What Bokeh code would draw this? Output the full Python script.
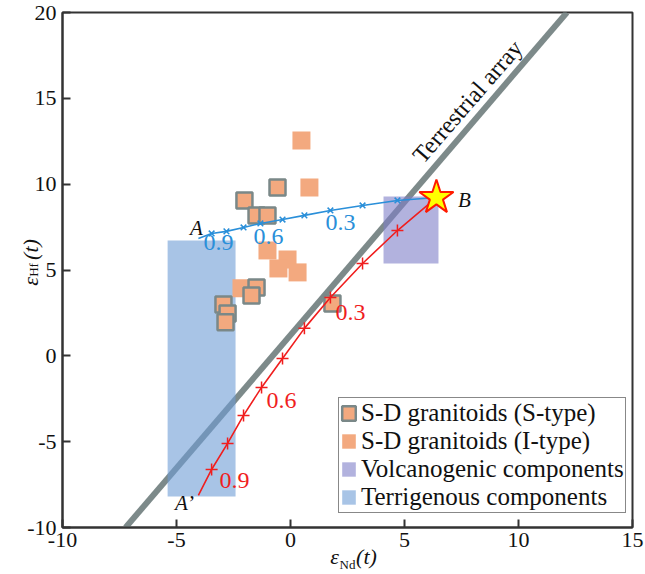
from bokeh.plotting import figure
from bokeh.models import Label, Legend, LegendItem, Slope, LinearAxis, FixedTicker
from bokeh.embed import file_html
from bokeh.resources import INLINE

# ---------------- data ----------------
x_ticks = [-10, -5, 0, 5, 10, 15]
y_ticks = [-10, -5, 0, 5, 10, 15, 20]

# S-D granitoids (S-type) - bordered squares
s_type_x = [-0.57, -2.02, -1.49, -1.01, -1.49, -1.71, -2.94, -2.76, -2.85, 1.84]
s_type_y = [9.81, 9.05, 8.18, 8.18, 3.98, 3.52, 2.99, 2.47, 1.95, 3.05]
# S-D granitoids (I-type) - plain squares
i_type_x = [0.48, 0.83, -1.01, -0.13, -0.53, 0.31, -2.15]
i_type_y = [12.55, 9.81, 6.14, 5.61, 5.09, 4.86, 3.93]

# mixing curve A -> B (blue) and A' -> B (red); endpoints first/last
blue_x = [-4.04, -3.46, -2.81, -2.06, -1.32, -0.35, 0.61, 1.75, 3.16, 4.69, 6.40]
blue_y = [6.84, 7.13, 7.25, 7.48, 7.71, 7.94, 8.18, 8.47, 8.76, 9.05, 9.22]
red_x = [-4.04, -3.46, -2.76, -2.06, -1.27, -0.35, 0.61, 1.75, 3.16, 4.69, 6.40]
red_y = [-8.13, -6.62, -5.10, -3.47, -1.84, -0.15, 1.60, 3.40, 5.38, 7.30, 9.22]

# end-member B
b_x = [6.40]
b_y = [9.22]

# component fields
volc_left, volc_right, volc_bottom, volc_top = [4.08], [6.49], [5.38], [9.28]
terr_left, terr_right, terr_bottom, terr_top = [-5.39], [-2.41], [-8.19], [6.72]

# terrestrial array  eHf = 1.55 eNd + 1.21
ta_gradient = 1.55
ta_intercept = 1.21

SERIF = "Liberation Serif"

# pixel helpers for text placement (frame: x 62..632, y 12..527)
def sx(px):
    return round(-10 + (px - 62) / 22.8, 3)

def sy(py):
    return round(20 - (py - 12) / 17.1667, 3)

p = figure(width=645, height=574, x_range=(-10, 15), y_range=(-10, 20),
           output_backend="svg", toolbar_location=None,
           min_border_left=62, min_border_right=13, min_border_top=12,
           min_border_bottom=47)
p.background_fill_color = "white"
p.border_fill_color = "white"
p.outline_line_color = "#333333"
p.outline_line_width = 2
p.grid.visible = False

for ax in (p.xaxis, p.yaxis):
    ax.major_tick_in = 8
    ax.major_tick_out = 0
    ax.minor_tick_line_color = None
    ax.axis_line_color = "#333333"
    ax.axis_line_width = 2
    ax.major_tick_line_color = "#333333"
    ax.major_tick_line_width = 2
    ax.major_label_text_font = SERIF
    ax.major_label_text_font_size = "22px"
    ax.major_label_text_color = "#111111"
p.xaxis.ticker = x_ticks
p.yaxis.ticker = y_ticks
p.xaxis.major_label_overrides = {t: str(t) for t in x_ticks}
p.yaxis.major_label_overrides = {t: str(t) for t in y_ticks}
p.xaxis.major_label_standoff = 5
p.yaxis.major_label_standoff = 6


def title_axis(kind, pos_main, main_texts, sub_text, standoff, sub_standoff):
    ticks = list(pos_main)
    ax = LinearAxis(ticker=FixedTicker(ticks=ticks, minor_ticks=[]),
                    major_label_overrides={t: s for t, s in zip(ticks, main_texts)},
                    axis_label=sub_text)
    ax.axis_line_color = None
    ax.major_tick_line_color = None
    ax.minor_tick_line_color = None
    ax.major_label_text_font = SERIF
    ax.major_label_text_font_size = "22px"
    ax.major_label_text_font_style = "italic"
    ax.major_label_text_color = "#111111"
    ax.major_label_standoff = standoff
    ax.axis_label_text_font = SERIF
    ax.axis_label_text_font_size = "13px"
    ax.axis_label_text_font_style = "normal"
    ax.axis_label_text_color = "#111111"
    ax.axis_label_standoff = sub_standoff
    if kind == "left":
        ax.major_label_orientation = "vertical"
    p.add_layout(ax, kind)
    return ax

# x title: eps_Nd(t)
title_axis("below", [sx(334), sx(366)], ["\u03b5", "(t)"], "Nd", -12, -15)
# y title: eps_Hf(t)
title_axis("left", [sy(281), sy(249)], ["\u03b5", "(t)"], "Hf", -25, -25)

# terrestrial array (under everything)
slope = Slope(gradient=ta_gradient, y_intercept=ta_intercept,
              line_color="#7d8a8a", line_width=6, level="underlay")
p.add_layout(slope)

# component fields
r_terr = p.quad(left=terr_left, right=terr_right, bottom=terr_bottom, top=terr_top,
                fill_color="#6e9dd5", fill_alpha=0.6, line_color=None)
r_volc = p.quad(left=volc_left, right=volc_right, bottom=volc_bottom, top=volc_top,
                fill_color="#7f7fc8", fill_alpha=0.6, line_color=None)

# granitoids (rects sized in screen pixels)
SQ_FILL = "#f3a97f"
r_i = p.rect(i_type_x, i_type_y, width=18, height=18, width_units="screen",
             height_units="screen", fill_color=SQ_FILL, line_color=None)
r_s = p.rect(s_type_x, s_type_y, width=16, height=16, width_units="screen",
             height_units="screen", fill_color=SQ_FILL, line_color="#7a8888",
             line_width=2.5)

# mixing curves
BLUE = "#2a8fd9"
RED = "#f01e1e"
p.line(blue_x, blue_y, line_color=BLUE, line_width=1.6)
p.scatter(blue_x[1:-1], blue_y[1:-1], marker="x", size=8,
          line_color=BLUE, line_width=1.5)
p.line(red_x, red_y, line_color=RED, line_width=1.6)
p.scatter(red_x[1:-1], red_y[1:-1], marker="cross", size=12,
          line_color=RED, line_width=1.5)

# end-member B star
p.scatter(b_x, b_y, marker="star", size=36, fill_color="#ffff00",
          line_color="#ff1a00", line_width=2)

def lab(text, px, py, size="24px", color="#111111", style="normal",
        align="center", baseline="middle", angle=0):
    p.add_layout(Label(x=sx(px), y=sy(py), text=text, text_font=SERIF,
                       text_font_size=size, text_color=color,
                       text_font_style=style, text_align=align,
                       text_baseline=baseline, angle=angle, angle_units="deg"))

# fraction labels
lab("0.9", 218, 242, color=BLUE)
lab("0.6", 268, 236, color=BLUE)
lab("0.3", 340, 222, color=BLUE)
lab("0.3", 350, 312, color=RED)
lab("0.6", 281, 400, color=RED)
lab("0.9", 234, 480, color=RED)

# end-member labels
lab("A", 196, 228, size="21px", style="italic")
lab("A\u2019", 184, 502, size="21px", style="italic")
lab("B", 464, 200, size="21px", style="italic")

# terrestrial array label
lab("Terrestrial array", 467, 101, size="24px", angle=49)

legend = Legend(items=[
    LegendItem(label="S-D granitoids (S-type)", renderers=[r_s]),
    LegendItem(label="S-D granitoids (I-type)", renderers=[r_i]),
    LegendItem(label="Volcanogenic components", renderers=[r_volc]),
    LegendItem(label="Terrigenous components", renderers=[r_terr]),
], location=(276, 14))
legend.border_line_color = "#111111"
legend.border_line_width = 1.5
legend.background_fill_color = "white"
legend.background_fill_alpha = 1.0
legend.padding = 1
legend.spacing = 0
legend.margin = 0
legend.glyph_width = 17
legend.glyph_height = 18
legend.label_standoff = 4
legend.label_height = 26
legend.label_text_font = SERIF
legend.label_text_font_size = "25px"
legend.label_text_color = "#111111"
legend.label_text_baseline = "middle"
p.add_layout(legend)

open("out.html", "w").write(file_html(p, INLINE))
